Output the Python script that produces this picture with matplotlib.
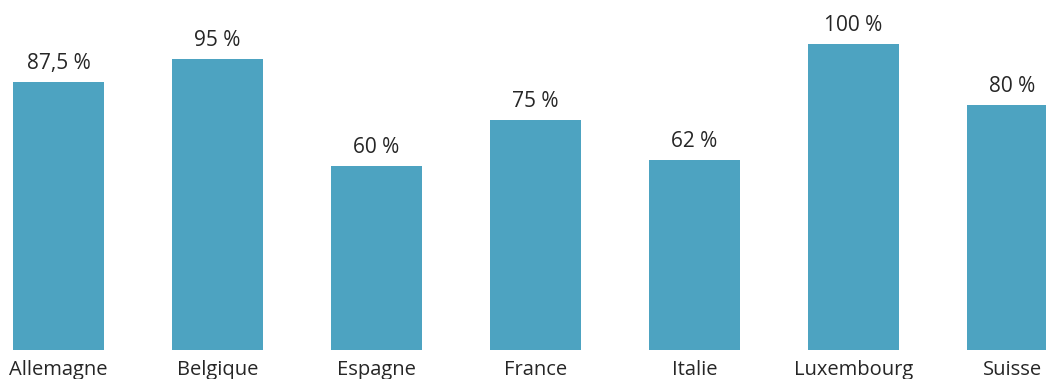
import numpy as np
import matplotlib.pyplot as plt

plt.rcParams['font.family'] = ['Open Sans', 'DejaVu Sans']

pays = ["Allemagne", "Belgique", "Espagne", "France", "Italie", "Luxembourg", "Suisse"]
taux = [87.5, 95, 60, 75, 62, 100, 80]
etiquettes = ["87,5 %", "95 %", "60 %", "75 %", "62 %", "100 %", "80 %"]

bleu = "#4DA3C1"
texte = "#262626"

fig = plt.figure(figsize=(10.46, 3.79), dpi=100)
ax = fig.add_axes([0, 29 / 379, 1, 350 / 379])

x = np.arange(len(pays))
barres = ax.bar(x, taux, width=91 / 159, color=bleu)

# valeurs au-dessus des barres
for xi, val, lab in zip(x, taux, etiquettes):
    ax.annotate(lab, (xi, val), xytext=(0, 9.5), textcoords="offset points",
                ha="center", va="baseline", fontsize=15, color=texte)

ax.set_xlim(-58.5 / 159, (1046 - 58.5) / 159)
ax.set_ylim(0, 350 / 3.06)
ax.set_xticks(x)
ax.set_xticklabels(pays, fontsize=14.5, color=texte)
ax.tick_params(axis="x", length=0, pad=7.5)
ax.set_yticks([])
for s in ax.spines.values():
    s.set_visible(False)

fig.savefig("out.png", dpi=100)
